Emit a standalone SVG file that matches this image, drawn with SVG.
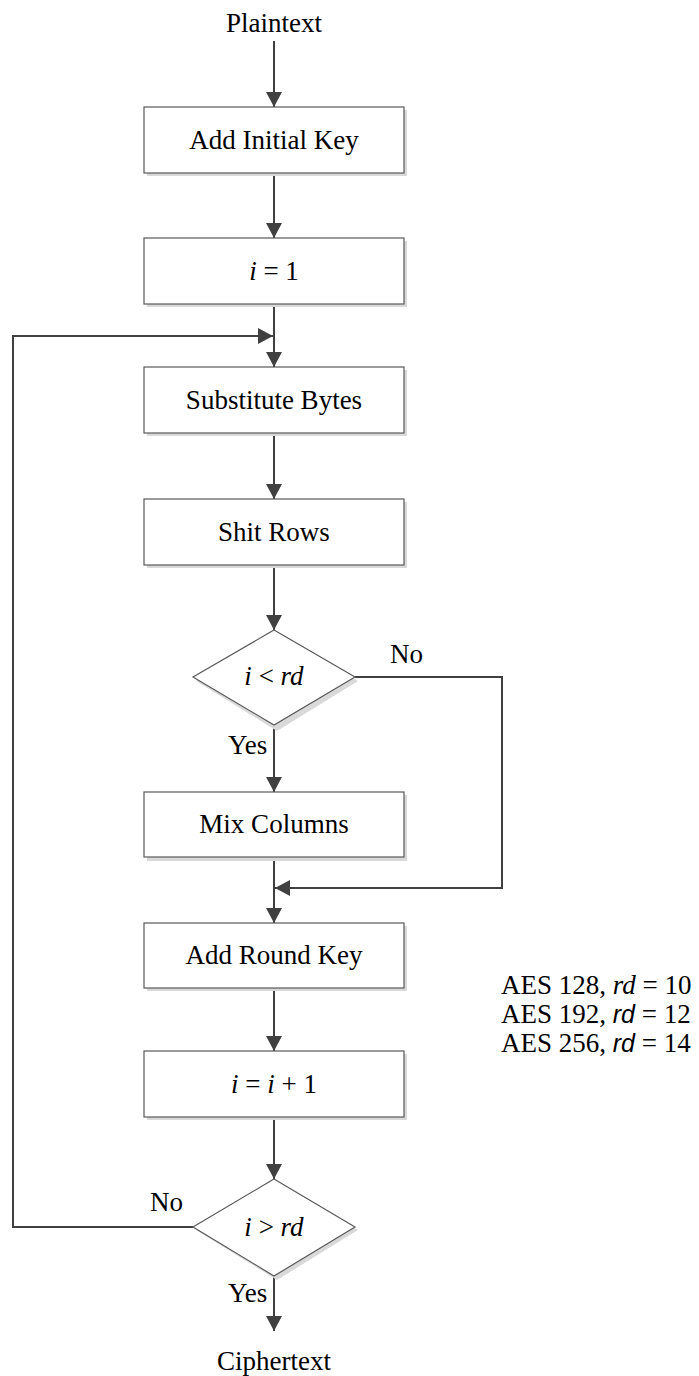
<svg xmlns="http://www.w3.org/2000/svg" width="699" height="1376" viewBox="0 0 699 1376">
  <style>
    .box { fill: #ffffff; stroke: #595959; stroke-width: 1.2; }
    .shadow { fill: #d9d9d9; stroke: none; }
    .edge { fill: none; stroke: #404040; stroke-width: 2; }
    .t { font-family: "Liberation Serif", "Times New Roman", serif; font-size: 27px; fill: #000; }
    .c { text-anchor: middle; }
    .it { font-style: italic; }
    .sit { font-family: "Liberation Sans", Arial, sans-serif; font-style: italic; font-size: 25px; }
  </style>
  <defs>
    <marker id="arrow" markerWidth="16" markerHeight="16" viewBox="0 0 16 16" refX="15" refY="8" orient="auto" markerUnits="userSpaceOnUse">
      <path d="M0,0 L15,8 L0,16 Z" fill="#404040"/>
    </marker>
  </defs>

  <rect width="699" height="1376" fill="#ffffff"/>

  <!-- connectors -->
  <g id="connectors">
    <path class="edge" d="M274,41 V107" marker-end="url(#arrow)"/>
    <path class="edge" d="M274,173 V238" marker-end="url(#arrow)"/>
    <path class="edge" d="M274,304 V367" marker-end="url(#arrow)"/>
    <path class="edge" d="M274,433 V499" marker-end="url(#arrow)"/>
    <path class="edge" d="M274,565 V630" marker-end="url(#arrow)"/>
    <path class="edge" d="M274,725 V792" marker-end="url(#arrow)"/>
    <path class="edge" d="M274,857 V923" marker-end="url(#arrow)"/>
    <path class="edge" d="M274,988 V1051" marker-end="url(#arrow)"/>
    <path class="edge" d="M274,1117 V1179" marker-end="url(#arrow)"/>
    <path class="edge" d="M274,1276 V1331" marker-end="url(#arrow)"/>
    <!-- i < rd : No branch skips Mix Columns -->
    <path class="edge" d="M355,677 H502 V888 H275" marker-end="url(#arrow)"/>
    <!-- i > rd : No branch loops back to Substitute Bytes -->
    <path class="edge" d="M193,1227 H13 V336 H273" marker-end="url(#arrow)"/>
  </g>

  <g id="plaintext">
    <text class="t c" x="274" y="32">Plaintext</text>
  </g>

  <g id="add-initial-key">
    <rect class="shadow" x="147" y="110" width="260" height="66"/>
    <rect class="box" x="144" y="107" width="260" height="66"/>
    <text class="t c" x="274" y="149">Add Initial Key</text>
  </g>

  <g id="init-i">
    <rect class="shadow" x="147" y="241" width="260" height="66"/>
    <rect class="box" x="144" y="238" width="260" height="66"/>
    <text class="t c" x="274" y="280"><tspan class="it">i</tspan> = 1</text>
  </g>

  <g id="substitute-bytes">
    <rect class="shadow" x="147" y="370" width="260" height="66"/>
    <rect class="box" x="144" y="367" width="260" height="66"/>
    <text class="t c" x="274" y="409">Substitute Bytes</text>
  </g>

  <g id="shift-rows">
    <rect class="shadow" x="147" y="502" width="260" height="66"/>
    <rect class="box" x="144" y="499" width="260" height="66"/>
    <text class="t c" x="274" y="541">Shit Rows</text>
  </g>

  <g id="check-last-round">
    <path class="shadow" d="M277,633 L358,681 L277,731 L196,681 Z"/>
    <path class="box" d="M274,630 L355,677 L274,725 L193,677 Z"/>
    <text class="t c" x="274" y="685"><tspan class="it">i</tspan> &lt; <tspan class="it">rd</tspan></text>
    <text class="t" x="390" y="663">No</text>
    <text class="t" x="228" y="754">Yes</text>
  </g>

  <g id="mix-columns">
    <rect class="shadow" x="147" y="795" width="260" height="66"/>
    <rect class="box" x="144" y="792" width="260" height="65"/>
    <text class="t c" x="274" y="833">Mix Columns</text>
  </g>

  <g id="add-round-key">
    <rect class="shadow" x="147" y="926" width="260" height="65"/>
    <rect class="box" x="144" y="923" width="260" height="65"/>
    <text class="t c" x="274" y="964">Add Round Key</text>
  </g>

  <g id="increment-i">
    <rect class="shadow" x="147" y="1054" width="260" height="66"/>
    <rect class="box" x="144" y="1051" width="260" height="66"/>
    <text class="t c" x="274" y="1093"><tspan class="it">i</tspan> = <tspan class="it">i</tspan> + 1</text>
  </g>

  <g id="check-done">
    <path class="shadow" d="M277,1182 L358,1230 L277,1280 L196,1230 Z"/>
    <path class="box" d="M274,1179 L355,1227 L274,1276 L193,1227 Z"/>
    <text class="t c" x="274" y="1236"><tspan class="it">i</tspan> &gt; <tspan class="it">rd</tspan></text>
    <text class="t" x="150" y="1211">No</text>
    <text class="t" x="228" y="1302">Yes</text>
  </g>

  <g id="ciphertext">
    <text class="t c" x="274" y="1370">Ciphertext</text>
  </g>

  <g id="round-counts">
    <text class="t" x="501" y="994">AES 128, <tspan class="it">rd</tspan> = 10</text>
    <text class="t" x="501" y="1023">AES 192, <tspan class="sit">rd</tspan> = 12</text>
    <text class="t" x="501" y="1052">AES 256, <tspan class="sit">rd</tspan> = 14</text>
  </g>
</svg>
